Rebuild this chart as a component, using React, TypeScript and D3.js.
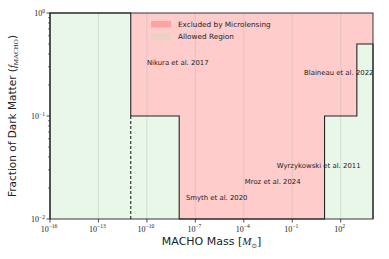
import React from "react";
import * as d3 from "d3";

const massEdges = [1e-16, 1e-11, 1e-8, 1e1, 1e3, 1e4];
const fLimits = [1, 0.1, 0.01, 0.1, 0.5];
const dashedMass = 1e-11;
const dashedRange = [0.01, 0.1];
const xTicks = [-16, -13, -10, -7, -4, -1, 2];
const yTicks = [-2, -1, 0];
const studies = ["Nikura et al. 2017", "Blaineau et al. 2022", "Wyrzykowski et al. 2011", "Mroz et al. 2024", "Smyth et al. 2020"];
const studyMass = [1e-10, 0.54, 0.011, 1.15e-4, 2.6e-8];
const studyF = [0.313, 0.25, 0.0313, 0.022, 0.0152];
const legendLabels = ["Excluded by Microlensing", "Allowed Region"];

const W = 389, H = 259;
const L = 50, R = 373, T = 13, B = 219;

const sup = (e: number) => (e < 0 ? "\u2212" + Math.abs(e) : String(e));

export default function App() {
  const x = d3.scaleLog().domain([1e-16, 1e4]).range([L, R]);
  const y = d3.scaleLog().domain([1e-2, 1]).range([B, T]);

  const pts: [number, number][] = [];
  fLimits.forEach((f, i) => {
    pts.push([massEdges[i], f]);
    pts.push([massEdges[i + 1], f]);
  });
  const areaLow = d3.area<[number, number]>().x(d => x(d[0])).y0(y(0.01)).y1(d => y(d[1]));
  const areaHigh = d3.area<[number, number]>().x(d => x(d[0])).y0(y(1)).y1(d => y(d[1]));
  const line = d3.line<[number, number]>().x(d => x(d[0])).y(d => y(d[1]));
  const outline: [number, number][] = [[massEdges[0], 0.01], ...pts, [massEdges[massEdges.length - 1], 0.01]];

  const minor: number[] = [];
  for (let e = -2; e < 0; e++) for (let k = 2; k <= 9; k++) minor.push(k * Math.pow(10, e));

  const legColors = ["#ffa2a2", "#e9d1c3"];

  return (
    <svg width={W} height={H} style={{ position: "absolute", left: 0, top: 0, background: "#fff" }}>
      <path d={areaHigh(pts) || ""} fill="#ffcccc" />
      <path d={areaLow(pts) || ""} fill="#e8f7e8" />
      {xTicks.map(e => (
        <line key={e} x1={x(Math.pow(10, e))} x2={x(Math.pow(10, e))} y1={T} y2={B} stroke="#b0b0b0" strokeOpacity={0.45} strokeWidth={0.8} />
      ))}
      <path d={line(outline) || ""} fill="none" stroke="#222" strokeWidth={1.1} />
      <line x1={x(dashedMass)} x2={x(dashedMass)} y1={y(dashedRange[0])} y2={y(dashedRange[1])} stroke="#222" strokeWidth={1.1} strokeDasharray="3,2" />
      <rect x={L} y={T} width={R - L} height={B - T} fill="none" stroke="#222" strokeWidth={0.9} />
      {xTicks.map(e => (
        <g key={e} transform={`translate(${x(Math.pow(10, e))},${B})`}>
          <line y1={0} y2={3.5} stroke="#222" strokeWidth={0.8} />
          <text x={-1} y={12.5} textAnchor="middle" fontFamily="Liberation Serif" fontSize={8} fill="#222">
            10<tspan dy={-3.5} fontSize={5.6}>{sup(e)}</tspan>
          </text>
        </g>
      ))}
      {yTicks.map(e => (
        <g key={e} transform={`translate(${L},${y(Math.pow(10, e))})`}>
          <line x1={0} x2={-3.5} stroke="#222" strokeWidth={0.8} />
          <text x={-5} y={3} textAnchor="end" fontFamily="Liberation Serif" fontSize={8} fill="#222">
            10<tspan dy={-3.5} fontSize={5.6}>{sup(e)}</tspan>
          </text>
        </g>
      ))}
      {minor.map((v, i) => (
        <line key={i} x1={L} x2={L - 2} y1={y(v)} y2={y(v)} stroke="#222" strokeWidth={0.6} />
      ))}
      {studies.map((s, i) => (
        <text key={s} x={x(studyMass[i])} y={y(studyF[i])} fontFamily="DejaVu Sans" fontSize={6.9} fill="#222">{s}</text>
      ))}
      {legendLabels.map((s, i) => (
        <g key={s} transform={`translate(151,${21 + i * 12.3})`}>
          <rect width={20} height={6.5} fill={legColors[i]} />
          <text x={27} y={6} fontFamily="DejaVu Sans" fontSize={7.3} fill="#222">{s}</text>
        </g>
      ))}
      <text transform={`translate(16,116) rotate(-90)`} textAnchor="middle" fontFamily="DejaVu Sans" fontSize={10.5} fill="#222">
        Fraction of Dark Matter (<tspan fontFamily="Liberation Serif" fontStyle="italic">f</tspan><tspan fontFamily="Liberation Serif" fontSize={7} dy={2}>MACHO</tspan><tspan dy={-2}>)</tspan>
      </text>
      <text x={211.5} y={245} textAnchor="middle" fontFamily="DejaVu Sans" fontSize={11} fill="#222">
        MACHO Mass [<tspan fontFamily="Liberation Serif" fontStyle="italic">M</tspan><tspan fontFamily="DejaVu Sans" fontSize={6.5} dy={2.5}>{"\u2299"}</tspan><tspan dy={-2.5}>]</tspan>
      </text>
    </svg>
  );
}
